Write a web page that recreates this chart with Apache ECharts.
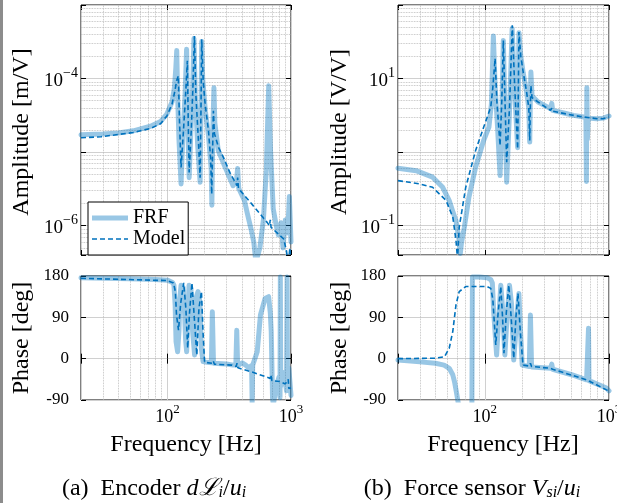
<!DOCTYPE html>
<html><head><meta charset="utf-8">
<script src="https://cdn.jsdelivr.net/npm/echarts@6/dist/echarts.min.js"></script>
<style>html,body{margin:0;padding:0;background:#fff}#c{width:617px;height:503px}</style>
</head><body><div id="c"></div>
<script>
// ---------------- data (frequency [Hz], value) ----------------
const encAmpFrf = [[20,1.72e-5],[30,1.76e-5],[40,1.82e-5],[53,1.95e-5],[73,2.25e-5],[88,2.6e-5],[99,3.3e-5],[109,4.8e-5],[114,7.5e-5],[117,1.4e-4],[119,2.4e-4],[121,6e-5],[124,1.5e-5],[129,3.7e-6],[133,1.5e-5],[139,6e-5],[143,2.5e-4],[146,2.5e-5],[150,4.5e-6],[155,2e-5],[160,7e-5],[164,3.5e-4],[168,6e-5],[176,1.2e-5],[184,3.9e-6],[187,4e-5],[189.5,3.2e-4],[193,1e-4],[203,3.6e-5],[215,1.67e-5],[226,6e-6],[229,1.9e-6],[233,2e-5],[238,7.5e-5],[242,2.5e-5],[258,1.05e-5],[290,6.5e-6],[340,3.5e-6],[362,4e-6],[370,6e-6],[378,3.2e-6],[420,2.2e-6],[442,1.5e-6],[475,9e-7],[500,6e-7],[520,3.2e-7],[560,5e-7],[598,1.2e-6],[631,5.6e-6],[660,8e-5],[683,1.05e-5],[718,1.7e-6],[760,1e-6],[790,7.5e-7],[830,1.1e-6],[862,5e-7],[900,1.2e-6],[940,8e-7],[970,2.5e-6],[1000,6e-7]];
const encAmpModel = [[20,1.57e-5],[29,1.62e-5],[53,1.85e-5],[73,2.1e-5],[88,2.43e-5],[99,3.1e-5],[109,4.5e-5],[115,6.8e-5],[119,9.5e-5],[122.7,1.09e-4],[125,3e-5],[129,6.2e-6],[135,2e-5],[141,7e-5],[145,1.74e-4],[147.5,2.5e-5],[150,5.3e-6],[156,2e-5],[161,8e-5],[165.4,3.8e-4],[170,6e-5],[178,1.5e-5],[184,4.5e-6],[187,4e-5],[189.5,3.43e-4],[195,9e-5],[202,4.5e-5],[215,1.95e-5],[224,8e-6],[228.3,2.7e-6],[232,1e-5],[235.6,3.65e-5],[240,1.8e-5],[259,1.16e-5],[284,8.5e-6],[320,5.3e-6],[366,3.5e-6],[370,4.5e-6],[376,3.2e-6],[470,2.07e-6],[641,1.11e-6],[670,1.0e-6],[680,1.2e-6],[690,9.5e-7],[873,6.6e-7],[920,4.5e-7],[950,3e-7],[980,5e-7],[1000,3e-7]];
const encPhaseFrf = [[20,176],[50,174],[80,172.5],[100,171],[110,166],[113,160],[115.5,117],[117.5,37],[121,15],[124,60],[126,131],[129,160],[134,155],[138,95],[140.5,40],[143.2,15],[146,100],[149.8,160],[155,153],[160,59],[166,8],[170,131],[177,146],[183,124],[188,23],[194.5,-6.5],[210,-8],[227,-9],[231,102],[236,-10],[300,-11.5],[340,-14],[358,-14],[364,62],[370,-15],[403,-9],[430,-14],[455,-20],[480,-15],[485,-95],[490,-14],[500,-12],[533,15],[566,95],[617,131],[659,135],[680,100],[692,59],[709,-86],[720,-100],[760,-60],[800,-40],[815,-85],[820,178],[826,-60],[880,-30],[920,-70],[930,178],[936,-40],[960,-20],[1000,-80]];
const encPhaseModel = [[20,175],[100,170],[112,165],[116,146],[118.5,95],[123,62],[128,120],[135.5,165],[141,110],[146,23],[151,100],[158,165],[166,80],[173,8],[180,110],[188.6,146],[194,60],[200,-8],[230,-10],[235,-5],[240,-12],[333,-14],[360,-17],[366,-10],[372,-20],[470,-28],[617,-39],[680,-43],[690,-35],[700,-48],[820,-50],[900,-55],[950,-45],[960,-65],[1000,-64]];
const fsAmpFrf = [[20,0.605],[28,0.56],[38,0.457],[45.8,0.333],[51.7,0.22],[55,0.16],[58.6,0.117],[62.2,0.063],[63.5,0.042],[65,0.06],[68.4,0.095],[74.5,0.244],[84.3,0.625],[98,1.45],[108,2.19],[113,4.5],[117.2,38],[121,8],[127,2],[132.7,0.48],[137,3],[141,33],[145,4],[150,0.39],[158,3.5],[166,48],[173,8],[183.8,1.15],[186,6],[188.3,42],[195,20],[203.7,12],[216.9,6.6],[226,4],[230,1.37],[233,6],[235,12.3],[240,5.8],[268.6,4.8],[338,3.9],[346,4.6],[352,3.7],[450,3.35],[519,3.16],[625,3.0],[652,3.0],[658,0.4],[663,7.5],[670,1.5],[680,2.9],[797,2.85],[900,2.9],[1000,3.1]];
const fsAmpModel = [[20,0.41],[30,0.37],[38,0.333],[48.8,0.22],[55.3,0.13],[58.6,0.063],[60.3,0.035],[62.2,0.095],[70.2,0.333],[84.3,1.05],[98,2.19],[111.7,4.1],[116,7.5],[121,18.7],[125,5],[132.7,1.23],[137,5],[141,33],[145,6],[150,0.73],[158,4],[166.4,53],[174,8],[183.8,1.11],[186,6],[188.3,43],[195,20],[203.7,12.3],[216.9,6.6],[226,4],[230,1.44],[232.5,4],[235,8],[240,5.5],[268.6,4.8],[338,3.7],[346,3.95],[352,3.6],[519,3.16],[625,3.0],[797,2.85],[900,2.85],[1000,3.0]];
const fsPhaseFrf = [[20,-3],[30,-7],[40,-10],[47,-14],[51.7,-21],[55.2,-35],[57,-50],[59,-72],[61,-95],[65,-140],[72,-170],[78.5,-178],[79.5,178],[90,178],[105,176],[112,172],[115,165],[118,100],[124.5,8],[129,80],[134.5,160],[139,110],[145,8],[151,90],[158,160],[164,120],[171,-3],[180,80],[188,142],[194,60],[200,-14],[228,-17],[233,95],[238,-18],[338,-21],[346,-12],[352,-23],[500,-35],[660,-46],[684,66],[690,-48],[720,-50],[955,-64],[1000,-70]];
const fsPhaseModel = [[20,0],[40,1],[47.3,4],[51.7,22.6],[55.2,59],[58.6,117],[62.2,146],[70.2,157],[104.6,157],[111.7,153],[116,130],[122.5,30],[128,100],[134.5,157],[139,90],[142.6,12],[149,100],[156,160],[163,90],[171,1],[178,90],[185,142],[193,60],[203,-14],[228,-16],[233,-10],[238,-17],[338,-21],[346,-17],[352,-23],[660,-46],[684,-48],[955,-68],[1000,-70]];

// ---------------- ticks / labels ----------------
const freqLabelExps = [2, 3];
const encAmpLabelExps = [-6, -4];
const fsAmpLabelExps = [-1, 1];
const phaseTicks = [-90, 0, 90, 180];
const freqMinor = [30,40,50,60,70,80,90,200,300,400,500,600,700,800,900];
const minorMult = [2,3,4,5,6,7,8,9];
const encAmpDecades = [1e-7, 1e-6, 1e-5, 1e-4];
const fsAmpDecades = [1e-2, 1e-1, 1, 10];

const FONT = '"Liberation Serif", "Times New Roman", serif';
const BLUE = '#0072bd';
const FRF_COLOR = 'rgba(0,114,189,0.4)';

function minorOf(decades, lo, hi) {
  const out = [];
  decades.forEach(d => minorMult.forEach(m => { const v = d * m; if (v > lo && v < hi) out.push(+v.toPrecision(3)); }));
  return out;
}
function supRich(b, s) {
  return {
    b: {fontFamily: FONT, fontSize: b, lineHeight: b + 5, verticalAlign: 'bottom', color: '#000'},
    s: {fontFamily: FONT, fontSize: s, lineHeight: s, verticalAlign: 'top', color: '#000'}
  };
}
function logFmt(exps) {
  return function (v) {
    const l = Math.log10(v), e = Math.round(l);
    if (Math.abs(l - e) > 0.01 || exps.indexOf(e) < 0) return '';
    return '{b|10}{s|' + (e < 0 ? '\u2212' + (-e) : e) + '}';
  };
}
const grids = [
  {left: 81, top: 5, width: 210, height: 250},
  {left: 81, top: 276, width: 210, height: 124},
  {left: 398, top: 5, width: 211, height: 250},
  {left: 398, top: 276, width: 211, height: 124}
].map(g => Object.assign(g, {show: true, borderColor: '#000', borderWidth: 1, backgroundColor: 'transparent', containLabel: false, outerBoundsMode: 'none'}));

const tick = {show: true, inside: true, length: 5, lineStyle: {color: '#000', width: 1}};
function xAx(gi, labels, mirror) {
  return {
    type: 'log', logBase: 10, gridIndex: gi, min: 20, max: 1000, position: mirror ? 'top' : 'bottom',
    axisLine: {show: false}, axisTick: tick,
    axisLabel: {show: labels && !mirror, margin: 3, formatter: logFmt(freqLabelExps), rich: supRich(18, 13)},
    splitLine: {show: !mirror, lineStyle: {color: '#d0d0d0', width: 1}}
  };
}
function yLog(gi, min, max, exps, mirror) {
  return {
    type: 'log', logBase: 10, gridIndex: gi, min: min, max: max, position: mirror ? 'right' : 'left',
    axisLine: {show: false}, axisTick: tick,
    axisLabel: {show: !mirror, margin: 3, formatter: logFmt(exps), rich: supRich(19, 14)},
    splitLine: {show: !mirror, lineStyle: {color: '#d0d0d0', width: 1}}
  };
}
function yPhase(gi, mirror) {
  return {
    type: 'value', gridIndex: gi, min: phaseTicks[0], max: phaseTicks[phaseTicks.length - 1], interval: 90,
    position: mirror ? 'right' : 'left',
    axisLine: {show: false}, axisTick: tick,
    axisLabel: {show: !mirror, margin: 12, fontFamily: FONT, fontSize: 17, color: '#000'},
    splitLine: {show: !mirror, lineStyle: {color: '#d0d0d0', width: 1}}
  };
}
const dotted = {type: 'dotted', color: '#b4b4b4', width: 0.8};
function gridSeries(gi, data, yMinor) {
  const ml = freqMinor.map(f => ({xAxis: f})).concat((yMinor || []).map(v => ({yAxis: v})));
  return {
    type: 'line', name: 'grid' + gi, xAxisIndex: gi, yAxisIndex: gi, data: data, symbol: 'none', silent: true, z: 1,
    lineStyle: {opacity: 0}, animation: false,
    markLine: {silent: true, z: 1, precision: 12, symbol: ['none', 'none'], label: {show: false}, lineStyle: dotted, animation: false, data: ml}
  };
}
function frf(gi, data) {
  return {type: 'line', name: 'FRF', xAxisIndex: gi, yAxisIndex: gi, data: data, symbol: 'none', z: 3,
    color: FRF_COLOR, lineStyle: {color: FRF_COLOR, width: 5, cap: 'round', join: 'round'}, animation: false};
}
function model(gi, data) {
  return {type: 'line', name: 'Model', xAxisIndex: gi, yAxisIndex: gi, data: data, symbol: 'none', z: 4,
    color: BLUE, lineStyle: {color: BLUE, width: 1.6, type: [5, 3]}, animation: false};
}

const txt = (x, y, text, size, rot) => ({type: 'text', x: x, y: y, rotation: rot || 0, silent: true,
  style: {text: text, fontFamily: FONT, fontSize: size, fill: '#000', align: 'center', verticalAlign: 'middle'}});
const capRich = {
  n: {fontFamily: FONT, fontSize: 24, lineHeight: 27, verticalAlign: 'bottom', fill: '#000'},
  i: {fontFamily: FONT, fontSize: 24, fontStyle: 'italic', lineHeight: 27, verticalAlign: 'bottom', fill: '#000'},
  sub: {fontFamily: FONT, fontSize: 16, fontStyle: 'italic', lineHeight: 14, verticalAlign: 'bottom', fill: '#000'}
};
const cap = (x, y, text) => ({type: 'text', x: x, y: y, silent: true,
  style: {text: text, rich: capRich, align: 'center', verticalAlign: 'middle'}});

const option = {
  animation: false,
  backgroundColor: '#fff',
  grid: grids,
  xAxis: [xAx(0, false), xAx(1, true), xAx(2, false), xAx(3, true), xAx(0, false, true), xAx(1, false, true), xAx(2, false, true), xAx(3, false, true)],
  yAxis: [yLog(0, 4e-7, 1e-3, encAmpLabelExps), yPhase(1), yLog(2, 0.04, 100, fsAmpLabelExps), yPhase(3),
          yLog(0, 4e-7, 1e-3, encAmpLabelExps, true), yPhase(1, true), yLog(2, 0.04, 100, fsAmpLabelExps, true), yPhase(3, true)],
  legend: {
    left: 88, top: 202, orient: 'vertical', backgroundColor: '#fff', borderColor: '#000', borderWidth: 1, borderRadius: 0,
    padding: [6, 3, 6, 4], itemGap: 1, itemWidth: 36, itemHeight: 14, symbolKeepAspect: true, selectedMode: false, z: 10,
    textStyle: {fontFamily: FONT, fontSize: 20, color: '#000', lineHeight: 20},
    data: [
      {name: 'FRF', icon: 'path://M0,0H36V5H0Z', itemStyle: {color: FRF_COLOR, borderWidth: 0, opacity: 1}},
      {name: 'Model', icon: 'path://M0,0h5v1.6h-5zM8,0h5v1.6h-5zM16,0h5v1.6h-5zM24,0h5v1.6h-5zM32,0h4v1.6h-4z', itemStyle: {color: BLUE, borderWidth: 0, opacity: 1}}
    ]
  },
  series: [
    gridSeries(0, encAmpModel, minorOf(encAmpDecades, 4e-7, 1e-3)), frf(0, encAmpFrf), model(0, encAmpModel),
    gridSeries(1, encPhaseModel), frf(1, encPhaseFrf), model(1, encPhaseModel),
    gridSeries(2, fsAmpModel, minorOf(fsAmpDecades, 0.04, 100)), frf(2, fsAmpFrf), model(2, fsAmpModel),
    gridSeries(3, fsPhaseModel), frf(3, fsPhaseFrf), model(3, fsPhaseModel)
  ],
  graphic: [
    {type: 'rect', shape: {x: 0, y: 0, width: 3, height: 503}, style: {fill: '#8c8c8c'}, silent: true},
    txt(22, 132, 'Amplitude [m/V]', 24, Math.PI / 2),
    txt(22, 338, 'Phase [deg]', 24, Math.PI / 2),
    txt(340, 132, 'Amplitude [V/V]', 24, Math.PI / 2),
    txt(340, 338, 'Phase [deg]', 24, Math.PI / 2),
    txt(186, 445, 'Frequency [Hz]', 24),
    txt(503, 445, 'Frequency [Hz]', 24),
    cap(154, 487, '{n|(a)  Encoder }{i|d\u2112}{sub|i}{n|/}{i|u}{sub|i}'),
    cap(472, 487, '{n|(b)  Force sensor }{i|V}{sub|si}{n|/}{i|u}{sub|i}')
  ]
};
const chart = echarts.init(document.getElementById('c'), null, {renderer: 'canvas'});
chart.setOption(option);
</script>
</body></html>
